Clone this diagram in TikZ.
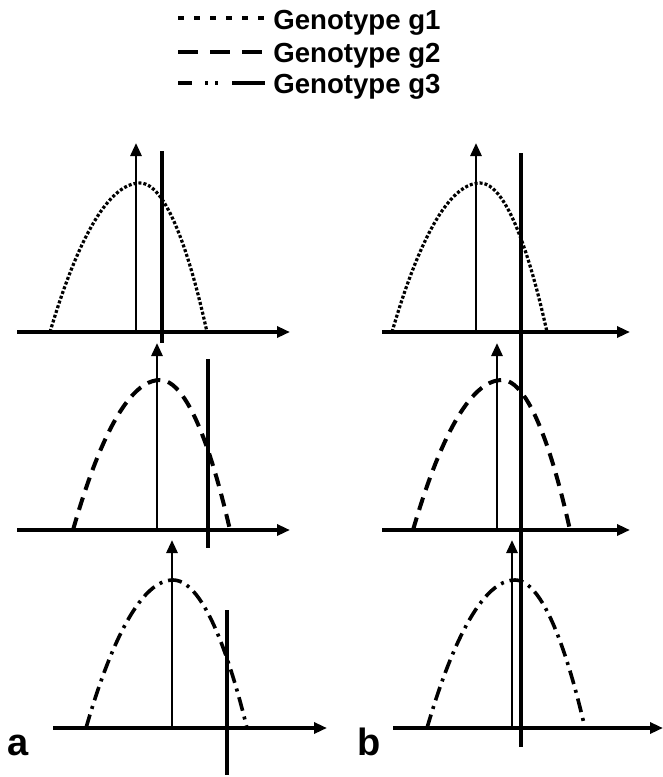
\documentclass[tikz,border=0pt]{standalone}
\usepackage{fontspec}
\setmainfont{Liberation Sans}
\usetikzlibrary{arrows.meta}
\tikzset{
  axis/.style={line width=1.6pt,-{Triangle[length=6.5pt,width=5.5pt]}},
  vaxis/.style={line width=1.4pt,-{Triangle[length=6.5pt,width=5.5pt]}},
  thick line/.style={line width=2.2pt},
  thin line/.style={line width=1.6pt},
  gone/.style={line width=1.6pt,dash pattern=on 1.5pt off 1pt},
  gtwo/.style={line width=2pt,dash pattern=on 6.5pt off 4pt},
  gthree/.style={line width=1.8pt,dash pattern=on 7pt off 3pt on 1.5pt off 3pt},
  lgone/.style={line width=1.6pt,dash pattern=on 3pt off 5pt},
  lgtwo/.style={line width=2.1pt,dash pattern=on 10pt off 6pt},
  lgthree/.style={line width=2.1pt,dash pattern=on 7pt off 6.5pt on 1.5pt off 3.5pt on 1.5pt off 7pt on 16.5pt},
  legtext/.style={anchor=base west,inner sep=0pt,font=\fontsize{13.8pt}{15pt}\selectfont\bfseries},
  panel/.style={anchor=base west,inner sep=0pt,font=\fontsize{19pt}{21pt}\selectfont\bfseries}
}
\begin{document}
\begin{tikzpicture}[x=0.5pt,y=-0.5pt]
\useasboundingbox (0,0) rectangle (663,777);
% legend
\draw[lgone] (178,18) -- (265,18);
\node[legtext] (l1) at (273,29) {Genotype g1};
\draw[lgtwo] (178,52) -- (265,52);
\node[legtext] (l2) at (273,62) {Genotype g2};
\draw[lgthree] (178,83) -- (265,83);
\node[legtext] (l3) at (273,93) {Genotype g3};

% ---------- panel a ----------
% row 1
\draw[axis] (17,332) -- (290,332);
\draw[vaxis] (136,332) -- (136,143);
\draw[gone] (50,332) parabola bend (140,183) (207,332);
\draw[thick line] (162,151) -- (162,343);
% row 2
\draw[axis] (17,530) -- (290,530);
\draw[vaxis] (157,530) -- (157,343);
\draw[gtwo] (73,530) parabola bend (160,380) (230,530);
\draw[thin line] (208,359) -- (208,548);
% row 3
\draw[axis] (53,728) -- (327,728);
\draw[vaxis] (172,728) -- (172,540);
\draw[gthree] (86,728) parabola bend (173,580) (247,728);
\draw[thin line] (227,610) -- (227,775);
\node[panel] (pa) at (7,755) {a};

% ---------- panel b ----------
% row 1
\draw[axis] (382,332) -- (630,332);
\draw[vaxis] (476,332) -- (476,143);
\draw[gone] (392,332) parabola bend (480,183) (547,332);
% row 2
\draw[axis] (382,530) -- (630,530);
\draw[vaxis] (497,530) -- (497,343);
\draw[gtwo] (413,530) parabola bend (502,380) (570,530);
% row 3
\draw[axis] (393,728) -- (663,728);
\draw[vaxis] (512,728) -- (512,540);
\draw[gthree] (427,728) parabola bend (515,580) (585,728);
% common threshold line
\draw[line width=2.3pt] (521,153) -- (521,747);
\node[panel] (pb) at (357,755) {b};
\end{tikzpicture}
\end{document}
